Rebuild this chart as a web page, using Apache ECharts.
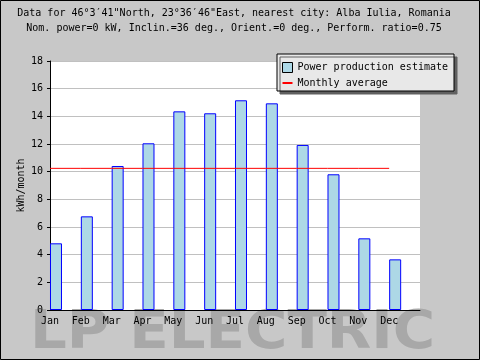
<!DOCTYPE html>
<html><head><meta charset="utf-8">
<script src="https://cdn.jsdelivr.net/npm/echarts@6/dist/echarts.min.js"></script>
<style>html,body{margin:0;padding:0;background:#c8c8c8}#c{width:480px;height:360px}</style>
</head><body><div id="c"></div>
<script>
// ---- data ----
const months = ['Jan','Feb','Mar','Apr','May','Jun','Jul','Aug','Sep','Oct','Nov','Dec'];
const production = [4.82, 6.77, 10.41, 12.05, 14.36, 14.22, 15.16, 14.94, 11.93, 9.81, 5.18, 3.66];
const monthlyAverage = [10.24, 10.24, 10.24, 10.24, 10.24, 10.24, 10.24, 10.24, 10.24, 10.24, 10.24, 10.24];
const yMin = 0, yMax = 18, yStep = 2;
const seriesNames = ['Power production estimate', 'Monthly average'];
const titleLines = [
  'Data for 46°3′41"North, 23°36′46"East, nearest city: Alba Iulia, Romania',
  'Nom. power=0 kW, Inclin.=36 deg., Orient.=0 deg., Perform. ratio=0.75'
];
const yName = 'kWh/month';
const watermark = 'LP ELECTRIC';

// ---- chart ----
const FONT = '"DejaVu Sans Mono", "Liberation Mono", monospace';
const chart = echarts.init(document.getElementById('c'), null, {renderer: 'canvas'});
const option = {
  backgroundColor: '#c8c8c8',
  animation: false,
  textStyle: {fontFamily: FONT, fontSize: 10, color: '#000'},
  grid: {left: 50, right: 60, top: 61, bottom: 50, show: true, backgroundColor: '#ffffff', borderWidth: 0},
  xAxis: [
    {
      type: 'category', data: months, boundaryGap: true, z: 8,
      axisLine: {lineStyle: {color: '#000', width: 1}},
      axisTick: {inside: true, length: 4, lineStyle: {color: '#000'}},
      axisLabel: {show: false}, splitLine: {show: false}
    },
    {
      type: 'category', data: months.concat(['']), boundaryGap: false, position: 'bottom', z: 8,
      axisLine: {show: false}, axisTick: {show: false}, splitLine: {show: false},
      axisLabel: {interval: 0, margin: 6, color: '#000', fontFamily: FONT, fontSize: 10}
    }
  ],
  yAxis: {
    type: 'value', min: yMin, max: yMax, interval: yStep, z: 5,
    name: yName, nameLocation: 'middle', nameGap: 24, nameRotate: 90, nameMoveOverlap: false,
    nameTextStyle: {fontFamily: FONT, fontSize: 10, color: '#000'},
    axisLine: {show: true, lineStyle: {color: '#000', width: 1}},
    axisTick: {show: true, length: 3, lineStyle: {color: '#000'}},
    axisLabel: {margin: 7, color: '#000', fontFamily: FONT, fontSize: 10},
    splitLine: {show: true, lineStyle: {color: '#c0c0c0', width: 1}}
  },
  legend: {
    orient: 'vertical', left: 277, top: 54, padding: [8, 6, 3, 5], itemGap: 5,
    itemWidth: 10, itemHeight: 10, selectedMode: false, z: 10,
    backgroundColor: '#e8e8e8', borderColor: '#000', borderWidth: 1,
    shadowColor: '#606060', shadowOffsetX: 3, shadowOffsetY: 3, shadowBlur: 0,
    textStyle: {fontFamily: FONT, fontSize: 10, color: '#000'},
    data: [
      {name: seriesNames[0], icon: 'rect', itemStyle: {color: '#add8e6', borderColor: '#000', borderWidth: 1}},
      {name: seriesNames[1], icon: 'path://M0,0L10,0L10,2L0,2Z', itemStyle: {color: '#ff0000', borderWidth: 0}}
    ]
  },
  graphic: [
    {type: 'text', x: 30, y: 334, scaleX: 1.07, z: 1,
     style: {text: watermark, font: 'bold 54px "DejaVu Sans"', fill: '#a8a8a8', textAlign: 'left', verticalAlign: 'middle', textVerticalAlign: 'middle'}},
    {type: 'text', x: 234, y: 13, z: 10,
     style: {text: titleLines[0], font: '10px ' + FONT, fill: '#000', textAlign: 'center', verticalAlign: 'middle', textVerticalAlign: 'middle'}},
    {type: 'text', x: 234, y: 28, z: 10,
     style: {text: titleLines[1], font: '10px ' + FONT, fill: '#000', textAlign: 'center', verticalAlign: 'middle', textVerticalAlign: 'middle'}},
    {type: 'rect', z: 10, shape: {x: 0.5, y: 0.5, width: 479, height: 359},
     style: {fill: 'none', stroke: '#000', lineWidth: 1}}
  ],
  series: [
    {
      name: seriesNames[0], type: 'bar', xAxisIndex: 0, yAxisIndex: 0, data: production,
      barWidth: 12, barGap: '57%', z: 6,
      itemStyle: {color: '#add8e6', borderColor: '#0000ff', borderWidth: 1}
    },
    {
      name: '_spacer', type: 'bar', xAxisIndex: 0, yAxisIndex: 0,
      data: months.map(() => null), barWidth: 12, silent: true
    },
    {
      name: seriesNames[1], type: 'line', xAxisIndex: 1, yAxisIndex: 0,
      data: monthlyAverage.concat([null]), symbol: 'none', showSymbol: false, z: 7,
      lineStyle: {color: '#ff0000', width: 1}, itemStyle: {color: '#ff0000'}
    }
  ]
};
chart.setOption(option);
</script>
</body></html>
